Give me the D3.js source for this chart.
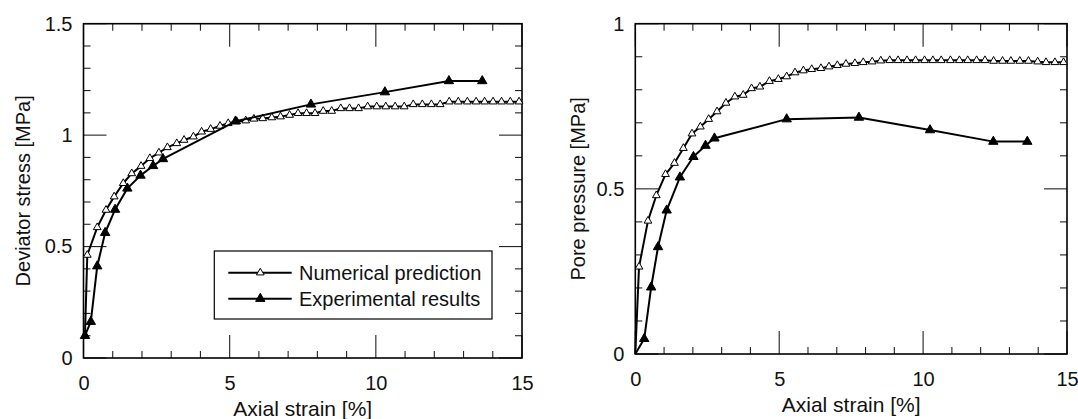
<!DOCTYPE html>
<html>
<head>
<meta charset="utf-8">
<script src="https://cdn.jsdelivr.net/npm/d3@7"></script>
<style>
  html, body { margin: 0; padding: 0; background: #fff; }
  svg { display: block; font-family: "Liberation Sans", Arial, Helvetica, sans-serif; }
</style>
</head>
<body>
<svg id="chart" width="1078" height="419"></svg>
<script>
// ---------- DATA ----------
const strainTicks = [0, 5, 10, 15];
const stressTicks = [0, 0.5, 1, 1.5];
const poreTicks = [0, 0.5, 1];

// Left panel: deviator stress [MPa]
const stressNumStrain = [0.05, 0.13, 0.47, 0.77, 1.05, 1.36, 1.65, 1.97, 2.27, 2.58, 2.87, 3.19, 3.44, 3.76, 4.04, 4.35, 4.67, 4.95, 5.24, 5.55, 5.83, 6.13, 6.44, 6.74, 7.05, 7.34, 7.63, 7.92, 8.2, 8.49, 8.8, 9.1, 9.41, 9.72, 10.03, 10.34, 10.66, 10.97, 11.28, 11.59, 11.9, 12.2, 12.51, 12.82, 13.13, 13.43, 13.72, 14.01, 14.3, 14.6, 14.9];
const stressNumValue  = [0.10, 0.462, 0.586, 0.664, 0.724, 0.784, 0.828, 0.861, 0.896, 0.921, 0.945, 0.963, 0.978, 0.993, 1.015, 1.027, 1.041, 1.053, 1.062, 1.065, 1.073, 1.075, 1.079, 1.083, 1.09, 1.098, 1.098, 1.098, 1.108, 1.108, 1.12, 1.12, 1.12, 1.128, 1.128, 1.128, 1.128, 1.128, 1.138, 1.138, 1.138, 1.138, 1.15, 1.15, 1.15, 1.15, 1.15, 1.15, 1.15, 1.15, 1.15];
const stressExpStrain = [0.05, 0.25, 0.47, 0.74, 1.08, 1.5, 1.95, 2.38, 2.72, 5.2, 7.78, 10.31, 12.5, 13.64];
const stressExpValue  = [0.10, 0.163, 0.412, 0.562, 0.666, 0.761, 0.819, 0.862, 0.893, 1.062, 1.138, 1.193, 1.243, 1.243];

// Right panel: pore pressure [MPa]
const poreNumStrain = [0, 0.13, 0.44, 0.73, 1.05, 1.36, 1.67, 1.97, 2.26, 2.55, 2.84, 3.15, 3.46, 3.75, 4.04, 4.33, 4.66, 4.97, 5.26, 5.55, 5.84, 6.13, 6.45, 6.73, 7.02, 7.32, 7.63, 7.92, 8.23, 8.53, 8.84, 9.13, 9.44, 9.74, 10.05, 10.34, 10.63, 10.95, 11.26, 11.55, 11.86, 12.15, 12.45, 12.76, 13.05, 13.36, 13.66, 13.98, 14.27, 14.58, 14.88];
const poreNumValue  = [0, 0.264, 0.403, 0.48, 0.544, 0.578, 0.623, 0.667, 0.688, 0.711, 0.734, 0.76, 0.779, 0.784, 0.804, 0.809, 0.826, 0.832, 0.84, 0.852, 0.858, 0.862, 0.865, 0.87, 0.874, 0.878, 0.88, 0.883, 0.885, 0.888, 0.889, 0.889, 0.889, 0.889, 0.889, 0.889, 0.889, 0.889, 0.889, 0.889, 0.889, 0.889, 0.887, 0.887, 0.887, 0.887, 0.887, 0.885, 0.883, 0.883, 0.883];
const poreExpStrain = [0, 0.31, 0.55, 0.79, 1.09, 1.55, 2.02, 2.44, 2.75, 5.26, 7.77, 10.24, 12.44, 13.62];
const poreExpValue  = [0, 0.046, 0.202, 0.324, 0.435, 0.535, 0.597, 0.631, 0.653, 0.711, 0.716, 0.678, 0.643, 0.643];

const legendLabels = ["Numerical prediction", "Experimental results"];
const xTitle = "Axial strain [%]";
const yTitles = ["Deviator stress [MPa]", "Pore pressure [MPa]"];

// ---------- DRAW ----------
const svg = d3.select("#chart");
const FONT = 20;

const panels = [
  { left: 83.5, right: 522, top: 23.7, bottom: 358, ymax: 1.5, yTicks: stressTicks,
    num: stressNumStrain.map((x, i) => [x, stressNumValue[i]]),
    exp: stressExpStrain.map((x, i) => [x, stressExpValue[i]]),
    yTitle: yTitles[0], yTitleX: 23, legend: true },
  { left: 635.3, right: 1067, top: 23.7, bottom: 354, ymax: 1, yTicks: poreTicks,
    num: poreNumStrain.map((x, i) => [x, poreNumValue[i]]),
    exp: poreExpStrain.map((x, i) => [x, poreExpValue[i]]),
    yTitle: yTitles[1], yTitleX: 578, legend: false }
];

const fmt = d => String(d);
const triOpen = d3.symbol().type(d3.symbolTriangle).size(26);
const triFill = d3.symbol().type(d3.symbolTriangle).size(38);

panels.forEach(p => {
  const x = d3.scaleLinear().domain([0, 15]).range([p.left, p.right]);
  const y = d3.scaleLinear().domain([0, p.ymax]).range([p.bottom, p.top]);
  const g = svg.append("g");

  const xMinor = d3.range(1, 15, 1).filter(v => v % 5 !== 0);
  const yMinor = d3.range(1, Math.round(p.ymax * 10), 1).filter(v => v % 5 !== 0).map(v => v / 10);

  // tick marks drawn inward on all four sides
  const tickG = g.append("g").attr("stroke", "#222").attr("stroke-width", 1.1);
  const xTickData = xMinor.map(v => ({ v, len: 7 })).concat(strainTicks.map(v => ({ v, len: 23 })));
  const yTickData = yMinor.map(v => ({ v, len: 7 })).concat(p.yTicks.map(v => ({ v, len: 23 })));
  tickG.selectAll(".xb").data(xTickData).enter().append("line")
    .attr("x1", d => x(d.v)).attr("x2", d => x(d.v))
    .attr("y1", p.bottom).attr("y2", d => p.bottom - d.len);
  tickG.selectAll(".xt").data(xTickData).enter().append("line")
    .attr("x1", d => x(d.v)).attr("x2", d => x(d.v))
    .attr("y1", p.top).attr("y2", d => p.top + d.len);
  tickG.selectAll(".yl").data(yTickData).enter().append("line")
    .attr("y1", d => y(d.v)).attr("y2", d => y(d.v))
    .attr("x1", p.left).attr("x2", d => p.left + d.len);
  tickG.selectAll(".yr").data(yTickData).enter().append("line")
    .attr("y1", d => y(d.v)).attr("y2", d => y(d.v))
    .attr("x1", p.right).attr("x2", d => p.right - d.len);

  // tick labels via d3 axes (no tick lines)
  const xa = g.append("g").attr("transform", `translate(0,${p.bottom})`)
    .call(d3.axisBottom(x).tickValues(strainTicks).tickSize(0).tickPadding(18).tickFormat(fmt));
  const ya = g.append("g").attr("transform", `translate(${p.left},0)`)
    .call(d3.axisLeft(y).tickValues(p.yTicks).tickSize(0).tickPadding(11).tickFormat(fmt));
  [xa, ya].forEach(a => {
    a.select(".domain").remove();
    a.selectAll(".tick line").remove();
    a.selectAll(".tick text").attr("font-size", FONT).attr("fill", "#111")
      .attr("font-family", '"Liberation Sans", Arial, sans-serif');
  });

  // frame
  g.append("rect")
    .attr("x", p.left).attr("y", p.top)
    .attr("width", p.right - p.left).attr("height", p.bottom - p.top)
    .attr("fill", "none").attr("stroke", "#000").attr("stroke-width", 1.6);

  // titles
  g.append("text")
    .attr("x", (p.left + p.right) / 2).attr("y", p.bottom + 50)
    .attr("text-anchor", "middle").attr("dominant-baseline", "central")
    .attr("font-size", FONT + 1).attr("fill", "#111").text(xTitle);
  g.append("text")
    .attr("transform", `translate(${p.yTitleX},${(p.top + p.bottom) / 2}) rotate(-90)`)
    .attr("text-anchor", "middle").attr("dominant-baseline", "central")
    .attr("font-size", FONT).attr("fill", "#111").text(p.yTitle);

  const line = d3.line().x(d => x(d[0])).y(d => y(d[1]));

  // numerical prediction
  g.append("path").datum(p.num).attr("d", line)
    .attr("fill", "none").attr("stroke", "#000").attr("stroke-width", 2).attr("stroke-linejoin", "round");
  g.selectAll(".mnum").data(p.num.filter(d => d[1] > 0)).enter().append("path")
    .attr("d", triOpen).attr("transform", d => `translate(${x(d[0])},${y(d[1])})`)
    .attr("fill", "#fff").attr("stroke", "#000").attr("stroke-width", 1);

  // experimental results
  g.append("path").datum(p.exp).attr("d", line)
    .attr("fill", "none").attr("stroke", "#000").attr("stroke-width", 2).attr("stroke-linejoin", "round");
  g.selectAll(".mexp").data(p.exp.filter(d => d[1] > 0)).enter().append("path")
    .attr("d", triFill).attr("transform", d => `translate(${x(d[0])},${y(d[1])})`)
    .attr("fill", "#000").attr("stroke", "#000").attr("stroke-width", 1);

  if (p.legend) {
    const lg = g.append("g");
    lg.append("rect").attr("x", 214.3).attr("y", 251).attr("width", 277.7).attr("height", 68)
      .attr("fill", "#fff").attr("stroke", "#000").attr("stroke-width", 1.2);
    legendLabels.forEach((lab, i) => {
      const ly = 272.7 + i * 26;
      lg.append("line").attr("x1", 228.3).attr("x2", 291.7).attr("y1", ly).attr("y2", ly)
        .attr("stroke", "#000").attr("stroke-width", 2);
      lg.append("path").attr("d", i === 0 ? triOpen : triFill)
        .attr("transform", `translate(260.3,${ly})`)
        .attr("fill", i === 0 ? "#fff" : "#000").attr("stroke", "#000").attr("stroke-width", 1);
      lg.append("text").attr("x", 299).attr("y", ly).attr("dominant-baseline", "central")
        .attr("font-size", FONT).attr("fill", "#111").text(lab);
    });
  }
});
</script>
</body>
</html>
